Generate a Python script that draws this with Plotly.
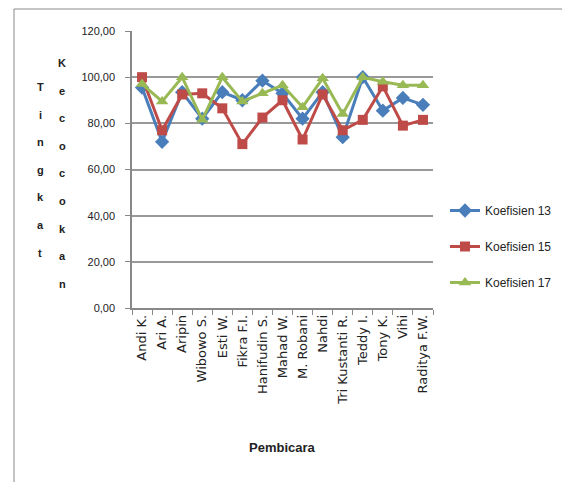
import plotly.graph_objects as go

categories = ["Andi K.", "Ari A.", "Aripin", "Wibowo S.", "Esti W.", "Fikra F.I.",
              "Hanifudin S.", "Mahad W.", "M. Robani", "Nahdi", "Tri Kustanti R.",
              "Teddy I.", "Tony K.", "Vihi", "Raditya F.W."]
koef13 = [95.5, 72.0, 93.5, 82.0, 93.5, 90.0, 98.5, 93.0, 82.0, 93.5, 74.0, 100.0, 85.5, 91.0, 88.0]
koef15 = [100.0, 77.0, 92.5, 93.0, 86.5, 71.0, 82.5, 90.0, 73.0, 92.5, 77.0, 81.5, 96.0, 79.0, 81.5]
koef17 = [97.0, 89.5, 100.0, 81.5, 100.0, 89.5, 93.0, 96.5, 87.0, 99.5, 84.0, 100.0, 98.0, 96.5, 96.5]
y_ticks = [0, 20, 40, 60, 80, 100, 120]

font_main = "Liberation Sans, Arial, sans-serif"
font_x = "DejaVu Sans, Liberation Sans, sans-serif"

# plot area in figure pixels (page has an 8px body margin)
PL, PR, PT, PB = 124, 425, 23, 300
W, H = 570, 482
PW, PH = PR - PL, PB - PT


def px_x(x):
    return (x - PL) / PW


def px_y(y):
    return (PB - y) / PH


series = [
    ("Koefisien 13", koef13, "#4A7EBB", "diamond", 11),
    ("Koefisien 15", koef15, "#BE4B48", "square", 10),
    ("Koefisien 17", koef17, "#98B954", "triangle-up", 11),
]

fig = go.Figure()
for i, (name, vals, color, sym, size) in enumerate(series):
    fig.add_trace(go.Scatter(
        x=categories, y=vals, name=name, mode="lines+markers",
        line=dict(color=color, width=3),
        marker=dict(symbol=sym, size=size, color=color),
        legendgroup=f"g{i}",
    ))

fig.update_layout(
    width=W, height=H,
    margin=dict(l=PL, r=W - PR, t=PT, b=H - PB, autoexpand=False),
    paper_bgcolor="white", plot_bgcolor="white",
    separators=",.",
    font=dict(family=font_main, size=12, color="#222"),
    showlegend=True,
    legend=dict(xref="container", yref="container",
                x=437 / W, y=1 - 188 / H, xanchor="left", yanchor="top",
                font=dict(size=12, color="#222", family=font_main), tracegroupgap=17,
                bgcolor="rgba(0,0,0,0)", itemwidth=30),
    xaxis=dict(
        type="category", range=[-0.5, len(categories) - 0.5],
        tickangle=-90, tickson="boundaries",
        ticks="outside", ticklen=5, tickcolor="#888",
        showline=True, linecolor="#888", linewidth=1.5,
        showgrid=False, tickfont=dict(size=13, color="#222", family=font_x),
        automargin=False,
    ),
    yaxis=dict(
        range=[0, 120], tickvals=y_ticks, tickformat=".2f",
        ticks="outside", ticklen=5, tickcolor="#888",
        showline=True, linecolor="#888", linewidth=1.5,
        showgrid=True, gridcolor="#999", gridwidth=1.5,
        zeroline=False, tickfont=dict(size=11, color="#222", family=font_main),
        ticklabelstandoff=8,
        automargin=False,
    ),
)

# outer chart border (partially cropped in reference)
fig.add_shape(type="rect", xref="paper", yref="paper",
              x0=px_x(6), y0=px_y(600), x1=px_x(700), y1=px_y(1),
              line=dict(color="#888", width=1), layer="below")

# x-axis title
fig.add_annotation(text="<b>Pembicara</b>", xref="paper", yref="paper",
                   x=0.5, y=px_y(439), showarrow=False,
                   font=dict(size=13, color="#222", family=font_main),
                   xanchor="center", yanchor="middle")

# stacked vertical y-axis title
word1 = "Tingkat"
word2 = "Kecocokan"
step = 27.6
for j, ch in enumerate(word1):
    fig.add_annotation(text=f"<b>{ch}</b>", xref="paper", yref="paper",
                       x=px_x(32), y=px_y(79 + j * step),
                       showarrow=False, font=dict(size=11, color="#222"),
                       xanchor="center", yanchor="middle")
for j, ch in enumerate(word2):
    fig.add_annotation(text=f"<b>{ch}</b>", xref="paper", yref="paper",
                       x=px_x(54), y=px_y(55 + j * step),
                       showarrow=False, font=dict(size=11, color="#222"),
                       xanchor="center", yanchor="middle")

fig.write_html("out.html")
